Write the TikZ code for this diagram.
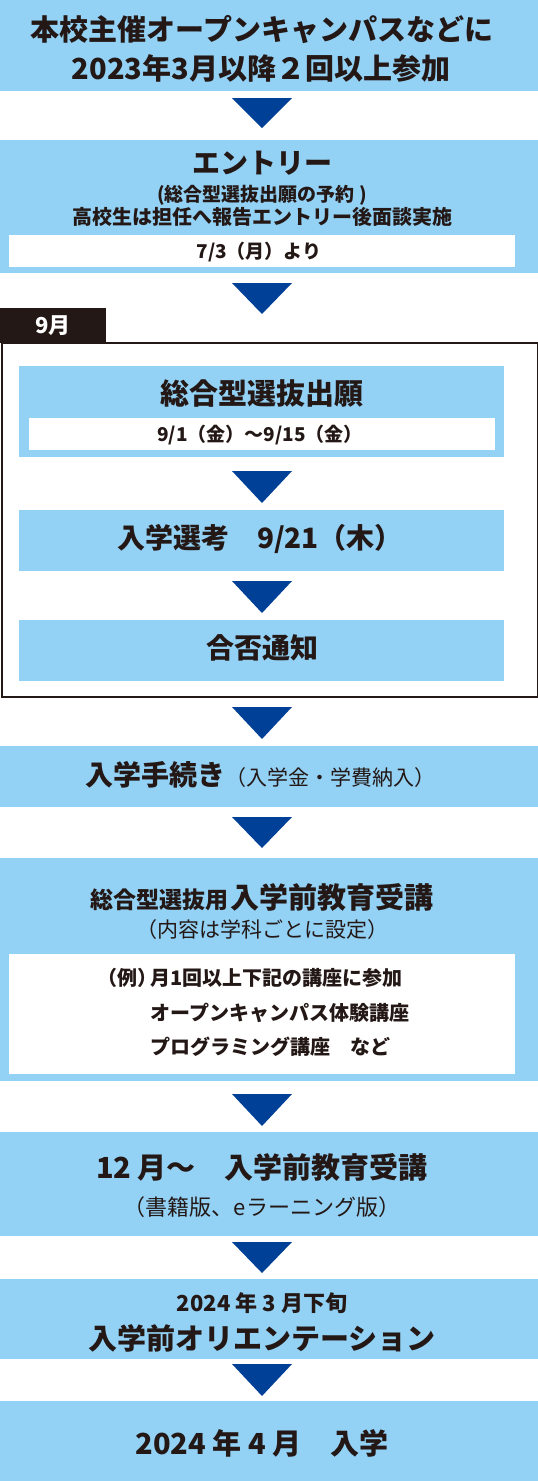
\documentclass[tikz,border=0pt]{standalone}
\usepackage{fontspec}
\setmainfont{Noto Sans CJK JP}
\definecolor{lb}{HTML}{93D1F5}
\definecolor{ab}{HTML}{004097}
\definecolor{tx}{HTML}{231815}
\newcommand\fs[1]{\fontsize{#1}{#1}\selectfont}
\tikzset{
  box/.style={fill=lb, draw=none, inner sep=0pt, outer sep=0pt, anchor=north west},
  wbox/.style={fill=white, draw=none, inner sep=0pt, outer sep=0pt, anchor=north west},
  tri/.style={fill=ab},
  t/.style={text=tx, inner sep=0pt, font=\bfseries, align=center},
  tr/.style={text=tx, inner sep=0pt, align=center},
}
\newcommand\downtri[2]{\fill[tri] (232,#1) -- (292,#1) -- (262,#2) -- cycle;}
\begin{document}
\begin{tikzpicture}[x=1pt,y=-1pt]
\useasboundingbox (0,0) rectangle (538,1481);
% boxes
\node[box, minimum width=538, minimum height=91] (b1) at (0,0) {};
\node[box, minimum width=538, minimum height=133] (b2) at (0,140) {};
\node[wbox, minimum width=506, minimum height=32] (w2) at (9,235) {};
\node[box, fill=tx, minimum width=106, minimum height=35] (tab) at (0,308) {};
\node[draw=tx, line width=2pt, fill=none, inner sep=0pt, minimum width=536, minimum height=354, anchor=north west] (frame) at (1,342) {};
\node[box, minimum width=485, minimum height=91] (b3) at (19,366) {};
\node[wbox, minimum width=466, minimum height=32] (w3) at (29,418) {};
\node[box, minimum width=485, minimum height=61] (b4) at (19,510) {};
\node[box, minimum width=485, minimum height=61] (b5) at (19,620) {};
\node[box, minimum width=538, minimum height=61] (b6) at (0,746) {};
\node[box, minimum width=538, minimum height=223] (b7) at (0,858) {};
\node[wbox, minimum width=506, minimum height=120] (w7) at (9,954) {};
\node[box, minimum width=538, minimum height=104] (b8) at (0,1132) {};
\node[box, minimum width=538, minimum height=80] (b9) at (0,1279) {};
\node[box, minimum width=538, minimum height=80] (b10) at (0,1401) {};
% arrows
\downtri{98}{128}
\downtri{283}{314}
\downtri{471}{503}
\downtri{581}{613}
\downtri{707}{739}
\downtri{817}{848}
\downtri{1094}{1126}
\downtri{1242}{1273}
\downtri{1364}{1396}
% texts
\node[t, font=\bfseries\fs{29}] (t1a) at (262,30) {本校主催オープンキャンパスなどに};
\node[t, font=\bfseries\fs{29}] (t1b) at (261,68) {2023年3月以降２回以上参加};
\node[t, font=\bfseries\fs{28}] (t2a) at (262,163) {エントリー};
\node[t, font=\bfseries\fs{19}] (t2b) at (262,195) {(総合型選抜出願の予約 )};
\node[t, font=\bfseries\fs{20}] (t2c) at (262,217) {高校生は担任へ報告エントリー後面談実施};
\node[t, font=\bfseries\fs{19}] (t2d) at (259,252) {7/3（月）より};
\node[t, text=white, font=\bfseries\fs{22}] (t9) at (53,326) {9月};
\node[t, font=\bfseries\fs{29}] (t3a) at (262,393) {総合型選抜出願};
\node[t, font=\bfseries\fs{19}] (t3b) at (260,435) {9/1（金）〜9/15（金）};
\node[t, font=\bfseries\fs{28}] (t4) at (260,539) {入学選考　9/21（木）};
\node[t, font=\bfseries\fs{28}] (t5) at (262,648) {合否通知};
\node[t] (t6) at (260,775) {{\bfseries\fs{28}入学手続き}{\mdseries\fs{21}（入学金・学費納入）}};
\node[t] (t7a) at (262,897) {{\fs{23}総合型選抜用}\,{\fs{29}入学前教育受講}};
\node[tr, font=\fs{21}] (t7b) at (262,930) {（内容は学科ごとに設定）};
\node[t, font=\bfseries\fs{20}, anchor=west] (t7c) at (97,978) {（例）};
\node[t, font=\bfseries\fs{20}, anchor=west] (t7d) at (150,978) {月1回以上下記の講座に参加};
\node[t, font=\bfseries\fs{20}, anchor=west] (t7e) at (150,1013) {オープンキャンパス体験講座};
\node[t, font=\bfseries\fs{20}, anchor=west] (t7f) at (150,1047) {プログラミング講座　など};
\node[t, font=\bfseries\fs{29}] (t8a) at (262,1167) {12 月〜　入学前教育受講};
\node[tr, font=\fs{22}] (t8b) at (262,1207) {（書籍版、eラーニング版）};
\node[t, font=\bfseries\fs{22}] (t9a) at (262,1303) {2024 年 3 月下旬};
\node[t, font=\bfseries\fs{29}] (t9b) at (262,1338) {入学前オリエンテーション};
\node[t, font=\bfseries\fs{29}] (t10) at (262,1443) {2024 年 4 月　入学};
\end{tikzpicture}
\end{document}
